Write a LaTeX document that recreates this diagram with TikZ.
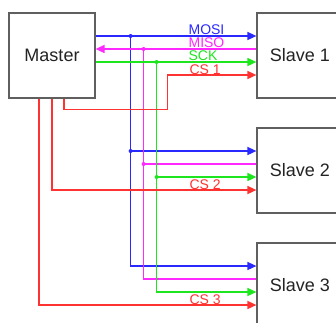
\documentclass[tikz,border=0pt]{standalone}
\usepackage{fontspec}
\setmainfont{Liberation Sans}
\usetikzlibrary{arrows.meta, calc}
\definecolor{mosicol}{RGB}{40, 40, 255}
\definecolor{misocol}{RGB}{255, 40, 255}
\definecolor{sckcol}{RGB}{30, 230, 30}
\definecolor{cscol}{RGB}{255, 50, 50}
\definecolor{boxgray}{RGB}{95, 95, 95}
\definecolor{ink}{RGB}{35, 35, 35}

\begin{document}
\begin{tikzpicture}[
    x=1pt, y=-1pt,
    unit/.style={
        rectangle, draw=boxgray, line width=1.2pt, fill=white,
        minimum width=86pt, minimum height=85pt,
        font=\fontsize{18}{20}\selectfont, text=ink, inner sep=0pt,
    },
    wire/.style={line width=1.5pt, draw=#1},
    tip/.style={-{Triangle[length=9pt, width=8pt]}},
    sig/.style={font=\fontsize{14}{15}\selectfont, inner sep=0pt, anchor=base west},
    tap/.style={fill=#1},
]

\useasboundingbox (0,0) rectangle (336,322);

% --- Master and the three slaves ---
\node[unit] (master) at (52,55.5)  {Master};
\node[unit] (slave1) at (300,55.5)  {Slave 1};
\node[unit] (slave2) at (300,170.5) {Slave 2};
\node[unit] (slave3) at (300,285.5) {Slave 3};

% --- Signal levels at every slave ---
\foreach \s in {1,2,3} {
    \coordinate (mosi\s) at ([yshift=19.5pt]slave\s.west);
    \coordinate (miso\s) at ([yshift=6.5pt]slave\s.west);
    \coordinate (sck\s)  at ([yshift=-6.5pt]slave\s.west);
    \coordinate (cs\s)   at ([yshift=-19.5pt]slave\s.west);
}

% --- Vertical bus columns ---
\coordinate (xmosi) at ($(master.east)+(35,0)$);
\coordinate (xmiso) at ($(master.east)+(48,0)$);
\coordinate (xsck)  at ($(master.east)+(61,0)$);
\coordinate (csbend) at ($(slave1.south west)+(-89,11)$);

% --- MOSI ---
\draw[wire=mosicol, tip] (master.east |- mosi1) -- (mosi1);
\draw[wire=mosicol, tip] (xmosi |- mosi1) -- (xmosi |- mosi3) -- (mosi3);
\draw[wire=mosicol, tip] (xmosi |- mosi2) -- (mosi2);

% --- MISO ---
\draw[wire=misocol, tip] (miso1) -- (master.east |- miso1);
\draw[wire=misocol] (xmiso |- miso1) -- (xmiso |- miso3) -- (miso3);
\draw[wire=misocol] (xmiso |- miso2) -- (miso2);

% --- SCK ---
\draw[wire=sckcol, tip] (master.east |- sck1) -- (sck1);
\draw[wire=sckcol, tip] (xsck |- sck1) -- (xsck |- sck3) -- (sck3);
\draw[wire=sckcol, tip] (xsck |- sck2) -- (sck2);

% --- Chip selects ---
\draw[wire=cscol, tip] ([xshift=12pt]master.south) |- (csbend) |- (cs1);
\draw[wire=cscol, tip] (master.south) |- (cs2);
\draw[wire=cscol, tip] ([xshift=-13pt]master.south) |- (cs3);

% --- Junction dots ---
\foreach \s in {1,2} {
    \fill[tap=mosicol] (xmosi |- mosi\s) circle (2);
    \fill[tap=misocol] (xmiso |- miso\s) circle (2);
    \fill[tap=sckcol]  (xsck |- sck\s)  circle (2);
}

% --- Labels ---
\node[sig, text=mosicol] (lmosi) at ([xshift=-68pt, yshift=1.5pt]mosi1) {MOSI};
\node[sig, text=misocol] (lmiso) at ([xshift=-68pt, yshift=1.5pt]miso1) {MISO};
\node[sig, text=sckcol]  (lsck)  at ([xshift=-68pt, yshift=1.5pt]sck1)  {SCK};
\foreach \s in {1,2,3} {
    \node[sig, text=cscol] (lcs\s) at ([xshift=-67pt, yshift=1pt]cs\s) {CS \s};
}

\end{tikzpicture}
\end{document}
